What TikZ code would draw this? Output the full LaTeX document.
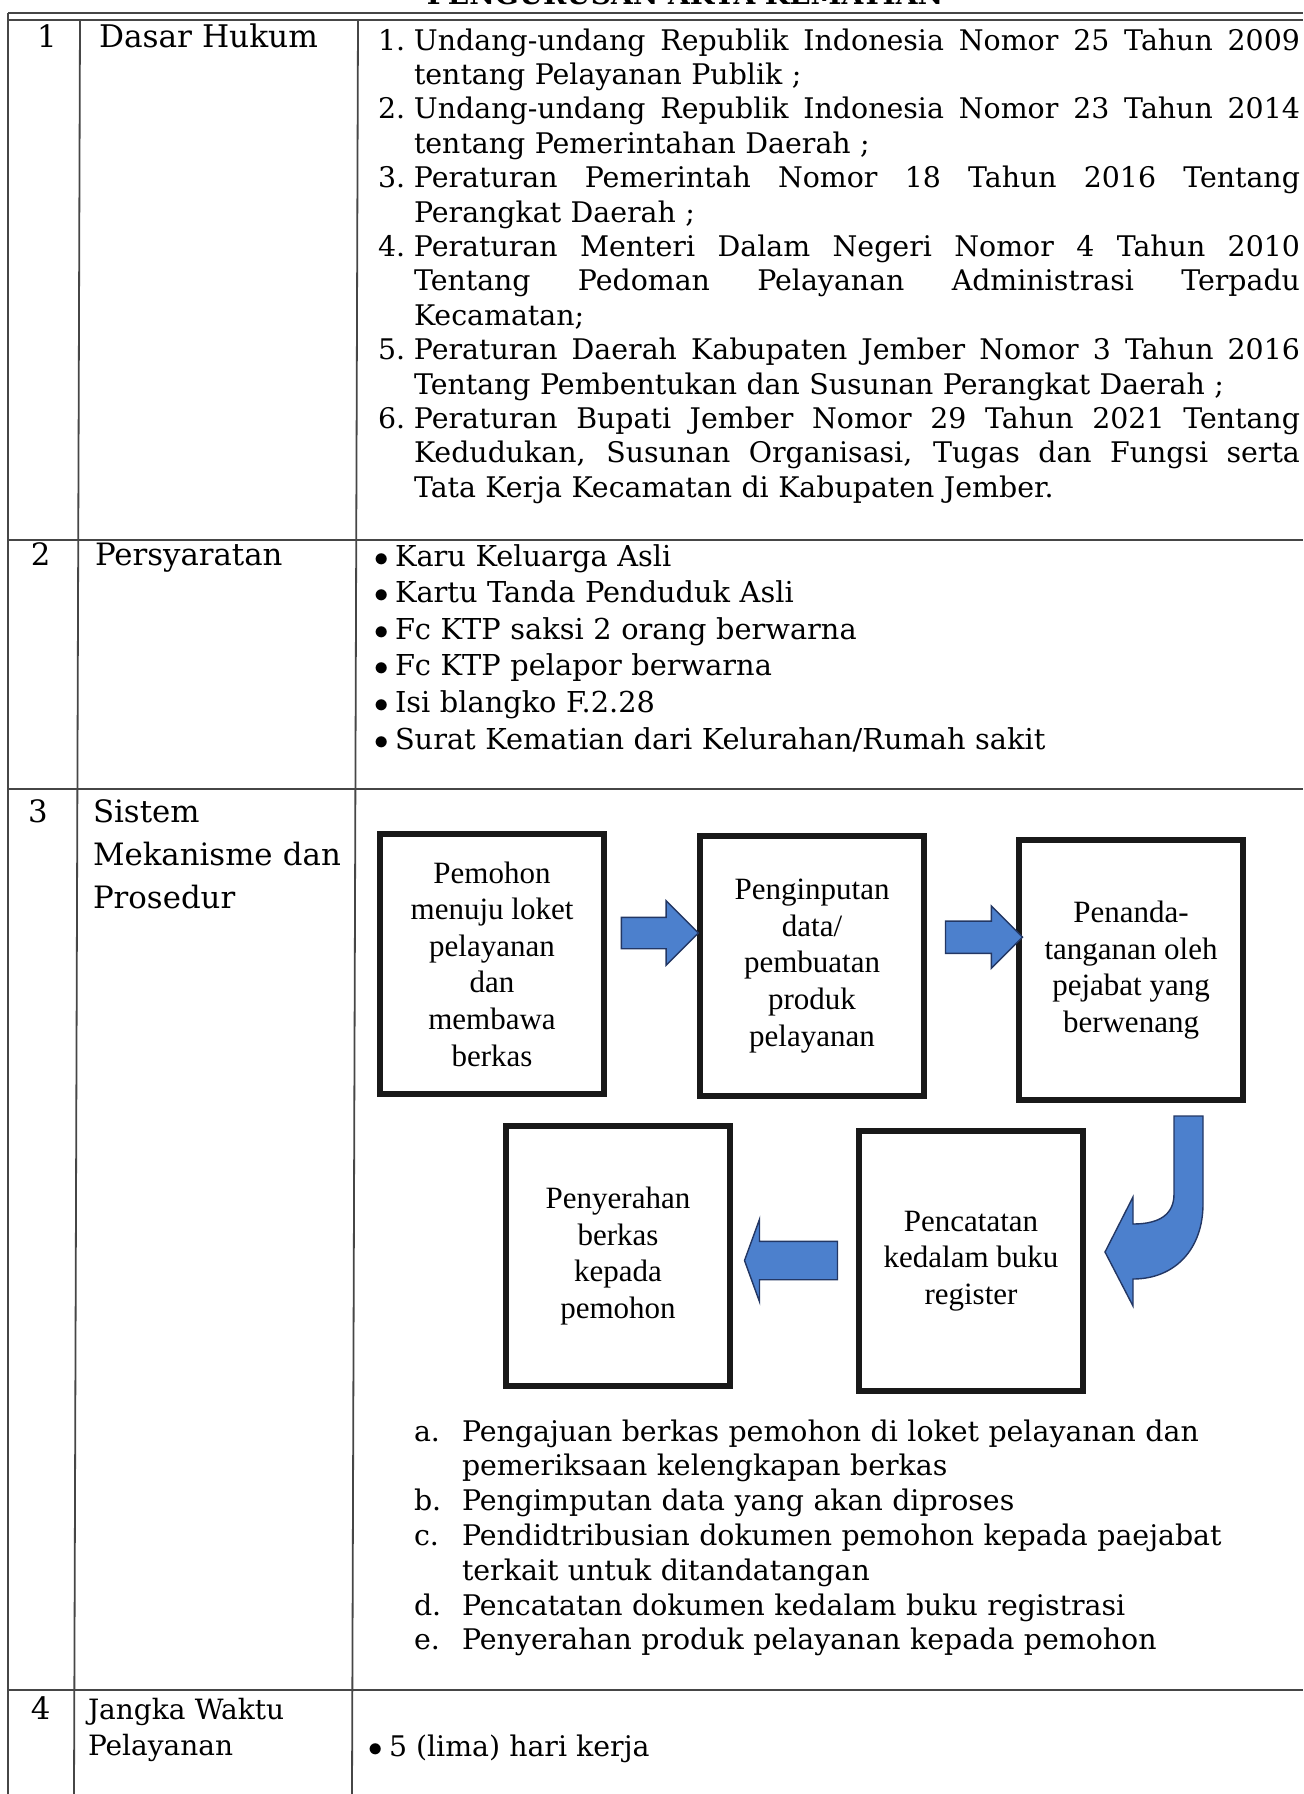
\documentclass[tikz,border=0pt]{standalone}
\usepackage{fontspec}
\setmainfont{DejaVu Serif}
\newfontfamily\boxfont{Liberation Serif}
\usetikzlibrary{calc,positioning,shapes.arrows}

\definecolor{arrowblue}{RGB}{76,128,205}
\definecolor{arrowline}{RGB}{35,55,100}
\definecolor{gridgray}{RGB}{70,70,70}

\newcommand\bodyfont{\fontsize{14.2}{17.2}\selectfont}
\newcommand\jl[1]{\makebox[443pt][s]{\spaceskip=0.32em plus 1fil\relax #1}}
\newcommand\nr[1]{\leavevmode\llap{\makebox[18pt][l]{#1}}}
\newcommand\lt[1]{\leavevmode\llap{\makebox[24pt][l]{#1}}}
\newcommand\bl{\leavevmode\llap{$\bullet$\hspace{3pt}}}

\tikzset{
    every picture/.style = {x = 0.5pt, y = -0.5pt},
    grid/.style = {draw = gridgray, line width = 0.9pt},
    cell/.style = {inner sep = 0pt, outer sep = 0pt, anchor = base west, font = \bodyfont},
    label/.style = {cell, text width = 140pt, align = left},
    item/.style = {cell, text width = 443pt, align = left},
    stepbox/.style = {
        draw = black!90, line width = 3pt, inner sep = 0pt,
        minimum width = 112pt, minimum height = 130pt,
        font = \boxfont\fontsize{15.5}{18.3}\selectfont, align = center
    },
    blockarrow/.style = {fill = arrowblue, draw = arrowline, line width = 0.7pt},
    rarrow/.style = {
        blockarrow, single arrow, inner xsep = 0pt,
        single arrow tip angle = 90
    }
}

\begin{document}
\begin{tikzpicture}
    \useasboundingbox (0,0) rectangle (1303,1794);

    % judul, terpotong di tepi atas
    \node[font = \bfseries\fontsize{14}{18}\selectfont, anchor = base] (judul) at (685,4) {PENGURUSAN AKTA KEMATIAN};

    % garis tabel
    \draw[grid] (8,13) -- (1303,13);
    \draw[grid] (8,20) -- (1303,20);
    \draw[grid] (8,13) -- (8,1794);
    \draw[grid] (80,20) -- (74,1794);
    \draw[grid] (358,20) -- (352,1794);
    \foreach \y in {540,789,1690}
        \draw[grid] (8,\y) -- (1303,\y);

    % baris 1
    \node[cell, font = \fontsize{15.4}{18}\selectfont] (no1) at (37,47) {1};
    \node[cell, font = \fontsize{15.6}{18}\selectfont] (dasar) at (99,47) {Dasar Hukum};
    \node[item] (hukum) at (414,50) {%
        \nr{1.}\jl{Undang-undang Republik Indonesia Nomor 25 Tahun 2009}\\
        tentang Pelayanan Publik ;\\
        \nr{2.}\jl{Undang-undang Republik Indonesia Nomor 23 Tahun 2014}\\
        tentang Pemerintahan Daerah ;\\
        \nr{3.}\jl{Peraturan Pemerintah Nomor 18 Tahun 2016 Tentang}\\
        Perangkat Daerah ;\\
        \nr{4.}\jl{Peraturan Menteri Dalam Negeri Nomor 4 Tahun 2010}\\
        \jl{Tentang Pedoman Pelayanan Administrasi Terpadu}\\
        Kecamatan;\\
        \nr{5.}\jl{Peraturan Daerah Kabupaten Jember Nomor 3 Tahun 2016}\\
        Tentang Pembentukan dan Susunan Perangkat Daerah ;\\
        \nr{6.}\jl{Peraturan Bupati Jember Nomor 29 Tahun 2021 Tentang}\\
        \jl{Kedudukan, Susunan Organisasi, Tugas dan Fungsi serta}\\
        Tata Kerja Kecamatan di Kabupaten Jember.};

    % baris 2
    \node[cell, font = \fontsize{15.4}{18}\selectfont] (no2) at (31,565) {2};
    \node[cell, font = \fontsize{15.4}{18}\selectfont] (syarat) at (95,565) {Persyaratan};
    \node[item, font = \fontsize{14.4}{18.3}\selectfont] (berkas) at (395,566) {%
        \bl Karu Keluarga Asli\\
        \bl Kartu Tanda Penduduk Asli\\
        \bl Fc KTP saksi 2 orang berwarna\\
        \bl Fc KTP pelapor berwarna\\
        \bl Isi blangko F.2.28\\
        \bl Surat Kematian dari Kelurahan/Rumah sakit};

    % baris 3
    \node[cell, font = \fontsize{15.4}{18}\selectfont] (no3) at (28,822) {3};
    \node[label, font = \fontsize{15.4}{21.7}\selectfont] (sistem) at (93,822) {Sistem\\ Mekanisme dan\\ Prosedur};

    \node[stepbox] (pemohon) at (492,964) {Pemohon\\ menuju loket\\ pelayanan\\ dan\\ membawa\\ berkas};
    \node[stepbox] (input) at (812,966) {Penginputan\\ data/\\ pembuatan\\ produk\\ pelayanan};
    \node[stepbox] (ttd) at (1131,970) {Penanda-\\ tanganan oleh\\ pejabat yang\\ berwenang};
    \node[stepbox] (serah) at (618,1256) {Penyerahan\\ berkas\\ kepada\\ pemohon};
    \node[stepbox] (catat) at (971,1261) {Pencatatan\\ kedalam buku\\ register};

    \node[rarrow, minimum height = 38.5pt, inner ysep = 7.5pt, single arrow head extend = 8.25pt]
        (panah1) at ($(pemohon.east)!0.5!(input.west) + (0,-32)$) {};
    \node[rarrow, minimum height = 38.5pt, inner ysep = 7.7pt, single arrow head extend = 7.5pt]
        (panah2) at ($(input.east)!0.55!(ttd.west) + (0,-31)$) {};
    \node[rarrow, minimum height = 46.5pt, inner ysep = 9.25pt, single arrow head extend = 11pt,
          single arrow tip angle = 140, shape border rotate = 180]
        (panah4) at ($(serah.east)!0.5!(catat.west) + (0,2)$) {};
    % panah lengkung dari ttd ke catat
    \draw[blockarrow, shift = {(ttd.south)}]
        (43,13) -- (72,13) -- (72,101)
        .. controls (72,146) and (44,176) .. (2,176)
        -- (2,203) -- (-26,149) -- (2,94) -- (2,121)
        .. controls (29,121) and (43,111) .. (43,91) -- cycle;

    \node[item, text width = 440pt, font = \fontsize{14.2}{17.4}\selectfont] (langkah) at (462,1441) {%
        \lt{a.}Pengajuan berkas pemohon di loket pelayanan dan\\
        pemeriksaan kelengkapan berkas\\
        \lt{b.}Pengimputan data yang akan diproses\\
        \lt{c.}Pendidtribusian dokumen pemohon kepada paejabat\\
        terkait untuk ditandatangan\\
        \lt{d.}Pencatatan dokumen kedalam buku registrasi\\
        \lt{e.}Penyerahan produk pelayanan kepada pemohon};

    % baris 4
    \node[cell, font = \fontsize{15.4}{18}\selectfont] (no4) at (31,1719) {4};
    \node[label, font = \fontsize{14}{18.4}\selectfont] (jangka) at (88,1719) {Jangka Waktu\\ Pelayanan};
    \node[cell] (waktu) at (389,1756) {\bl 5 (lima) hari kerja};
\end{tikzpicture}
\end{document}
